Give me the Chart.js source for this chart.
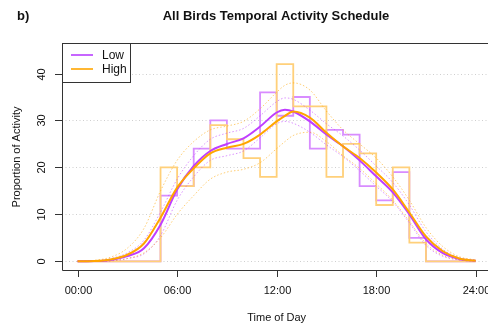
<!DOCTYPE html>
<html><head><meta charset="utf-8">
<script src="https://cdn.jsdelivr.net/npm/chart.js@4/dist/chart.umd.min.js"></script>
<style>html,body{margin:0;padding:0;background:#fff;overflow:hidden}canvas{display:block}</style>
</head><body>
<canvas id="c" width="488" height="333"></canvas>
<script>
// ---- data ----
const binHours = [0,1,2,3,4,5,6,7,8,9,10,11,12,13,14,15,16,17,18,19,20,21,22,23,24];
const lowHist  = [0,0,0,0,0,14,16,24,30,24,24,36,31,35,24,28,27,16,13,19,5,0,0,0,0];
const highHist = [0,0,0,0,0,20,16,20,29,26,22,18,42,33,33,18,25,23,12,20,4,0,0,0,0];

const curveHours = [0,1,2,3,4,5,6,7,8,9,10,11,12,12.5,13,14,15,16,17,18,19,20,21,22,23,24];
const lowFit    = [0,0.05,0.3,1.1,2.8,7.8,15.3,20.3,23.5,25,26.2,28.7,31.7,32.3,31.9,29.8,27,24.5,21.5,18.1,14.7,10,4.7,1.8,0.5,0.1];
const lowUpper  = [0,0.1,0.6,1.8,4.5,10.5,17.5,22.5,26,27.3,28.3,31,34,34.8,34.5,32.2,29.3,26.7,23.7,20.3,16.8,12,6.3,2.6,0.8,0.2];
const lowLower  = [0,0,0.1,0.6,1.6,5.5,13,18,21.5,22.5,23.5,26.3,29.3,29.8,29.4,27.5,24.8,22.3,19.3,16,12.7,8.2,3.4,1.1,0.3,0];
const highFit   = [0,0.05,0.4,1.4,3.8,9.3,15.7,19.8,23,24.2,25,27,29.8,31,31.9,30.6,27.4,24.5,22,18.9,15.3,10.4,5.3,2.2,0.6,0.1];
const highUpper = [0,0.2,0.9,2.8,7,15,21.5,25.5,28,28.8,29.8,32.5,36,37.5,38,36.5,32,28,25,22,18,13,7.2,3.2,1,0.3];
const highLower = [0,0,0.1,0.6,1.8,5,10,14,17.5,19,19.6,21,24,25.5,26.8,27.5,25.5,22.5,19.8,16.5,13,8.5,3.8,1.3,0.3,0];

const xTicks = [0,6,12,18,24];
const xTickLabels = ['00:00','06:00','12:00','18:00','24:00'];
const yTicks = [0,10,20,30,40];
const seriesNames = ['Low','High'];

const PURPLE = '#BF3EFF', ORANGE = '#FFA500';
const FONT = '"Liberation Sans", Arial, Helvetica, sans-serif';

const pts = (xs, ys) => xs.map((x,i)=>({x, y: ys[i]}));

function curve(data, color, width, dash, order){
  return {data, borderColor: color, borderWidth: width, borderDash: dash || [],
    pointRadius: 0, fill: false, cubicInterpolationMode: 'monotone', order};
}
function steps(data, color, order){
  return {data, borderColor: color, borderWidth: 1.8, pointRadius: 0, fill: false, stepped: 'before', order};
}

const decor = {
  id: 'decor',
  beforeDatasetsDraw(chart){
    const {ctx, chartArea: a, scales: {x, y}} = chart;
    ctx.save();
    ctx.strokeStyle = '#cfcfcf'; ctx.lineWidth = 1; ctx.setLineDash([1,2.5]);
    yTicks.forEach(v => {
      const py = Math.round(y.getPixelForValue(v)) + 0.5;
      ctx.beginPath(); ctx.moveTo(a.left, py); ctx.lineTo(a.right, py); ctx.stroke();
    });
    ctx.restore();
  },
  afterDraw(chart){
    const {ctx, chartArea: a, scales: {x, y}} = chart;
    ctx.save();
    ctx.strokeStyle = '#333'; ctx.lineWidth = 1; ctx.setLineDash([]);
    ctx.beginPath();
    ctx.moveTo(a.right + 5, a.top + 0.5); ctx.lineTo(a.left + 0.5, a.top + 0.5);
    ctx.lineTo(a.left + 0.5, a.bottom + 0.5); ctx.lineTo(a.right + 5, a.bottom + 0.5);
    ctx.stroke();
    ctx.fillStyle = '#111';
    ctx.font = '11px ' + FONT; ctx.textAlign = 'center'; ctx.textBaseline = 'middle';
    xTicks.forEach((v,i) => {
      const px = Math.round(x.getPixelForValue(v)) + 0.5;
      ctx.beginPath(); ctx.moveTo(px, a.bottom); ctx.lineTo(px, a.bottom + 7); ctx.stroke();
      ctx.fillText(xTickLabels[i], px, 291);
    });
    yTicks.forEach(v => {
      const py = Math.round(y.getPixelForValue(v)) + 0.5;
      ctx.beginPath(); ctx.moveTo(a.left - 7, py); ctx.lineTo(a.left, py); ctx.stroke();
      ctx.save(); ctx.translate(42, py); ctx.rotate(-Math.PI/2);
      ctx.fillText(String(v), 0, 0); ctx.restore();
    });
    ctx.fillText('Time of Day', (x.getPixelForValue(0) + x.getPixelForValue(24))/2, 318);
    ctx.save(); ctx.translate(17, 157); ctx.rotate(-Math.PI/2);
    ctx.fillText('Proportion of Activity', 0, 0); ctx.restore();
    ctx.font = 'bold 13px ' + FONT;
    ctx.fillText('All Birds Temporal Activity Schedule', 276, 16);
    ctx.textAlign = 'left';
    ctx.fillText('b)', 17, 16);
    ctx.fillStyle = '#fff';
    ctx.fillRect(a.left + 0.5, a.top + 0.5, 68, 39);
    ctx.strokeStyle = '#333';
    ctx.strokeRect(a.left + 0.5, a.top + 0.5, 68, 39);
    const cols = ['#C766FF', '#FFB733'];
    [55, 69].forEach((ly, i) => {
      ctx.strokeStyle = cols[i]; ctx.lineWidth = 2;
      ctx.beginPath(); ctx.moveTo(71, ly); ctx.lineTo(93, ly); ctx.stroke();
      ctx.fillStyle = '#111'; ctx.font = '12px ' + FONT; ctx.textBaseline = 'middle';
      ctx.fillText(seriesNames[i], 102, ly + 0.5);
    });
    ctx.restore();
  }
};

new Chart(document.getElementById('c'), {
  type: 'line',
  data: {
    datasets: [
      steps(pts(binHours, lowHist), '#D88CFF', 9),
      steps(pts(binHours, highHist), '#FFD07A', 8),
      curve(pts(curveHours, lowUpper), 'rgba(191,62,255,0.55)', 1, [1.5,2], 7),
      curve(pts(curveHours, lowLower), 'rgba(191,62,255,0.55)', 1, [1.5,2], 6),
      curve(pts(curveHours, highUpper), 'rgba(255,165,0,0.55)', 1, [1.5,2], 5),
      curve(pts(curveHours, highLower), 'rgba(255,165,0,0.55)', 1, [1.5,2], 4),
      curve(pts(curveHours, lowFit), PURPLE, 2, [], 2),
      curve(pts(curveHours, highFit), ORANGE, 2, [], 1)
    ]
  },
  options: {
    responsive: false, animation: false, devicePixelRatio: 1,
    layout: {padding: {left: 62, top: 43, right: 0, bottom: 63}},
    plugins: {legend: {display: false}, tooltip: {enabled: false}, title: {display: false}},
    scales: {
      x: {type: 'linear', min: -0.94, max: 24.74, display: false},
      y: {type: 'linear', min: -1.85, max: 46.5, display: false}
    }
  },
  plugins: [decor]
});
</script>
</body></html>
